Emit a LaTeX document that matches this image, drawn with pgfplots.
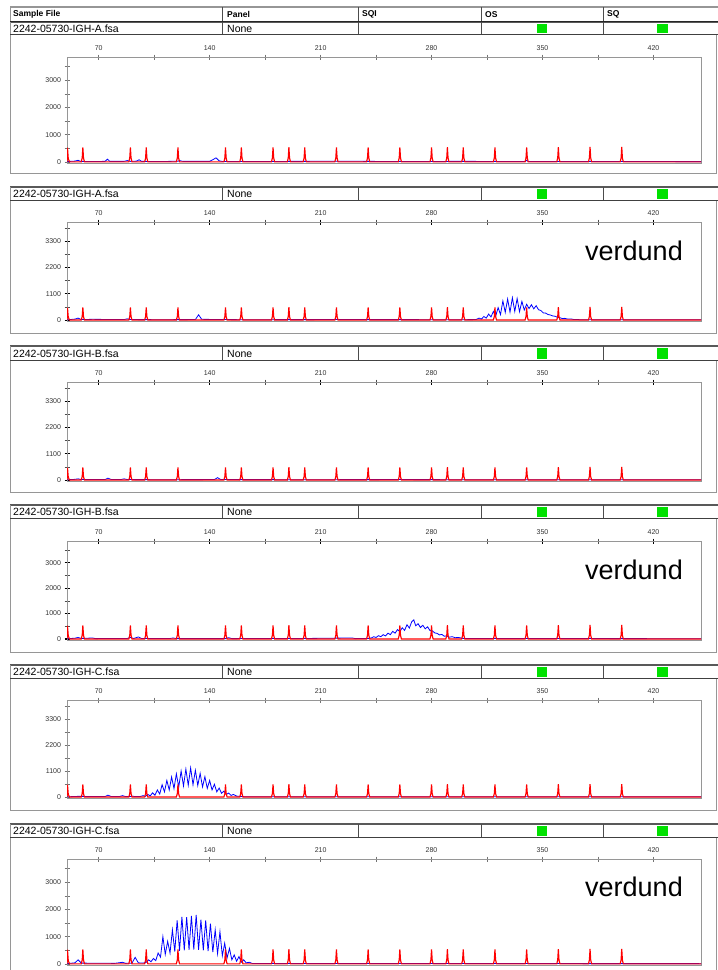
\documentclass[border=0pt]{standalone}
\usepackage{pgfplots}
\pgfplotsset{compat=1.18}
\usepackage{pgfplotstable}
\usepackage{fontspec}
\setmainfont{Liberation Sans}
\definecolor{okgreen}{RGB}{0,225,0}
\definecolor{framec}{RGB}{150,150,150}

\pgfplotstableread[row sep=\\]{
x y\\
50 0\\ 50.3 520\\ 50.8 120\\ 51.6 0\\
59 0\\ 59.6 150\\ 60 530\\ 60.4 150\\ 61 0\\
89 0\\ 89.6 150\\ 90 530\\ 90.4 150\\ 91 0\\
99 0\\ 99.6 150\\ 100 530\\ 100.4 150\\ 101 0\\
119 0\\ 119.6 150\\ 120 530\\ 120.4 150\\ 121 0\\
149 0\\ 149.6 150\\ 150 530\\ 150.4 150\\ 151 0\\
159 0\\ 159.6 150\\ 160 530\\ 160.4 150\\ 161 0\\
179 0\\ 179.6 150\\ 180 530\\ 180.4 150\\ 181 0\\
189 0\\ 189.6 150\\ 190 540\\ 190.4 150\\ 191 0\\
199 0\\ 199.6 150\\ 200 530\\ 200.4 150\\ 201 0\\
219 0\\ 219.6 150\\ 220 530\\ 220.4 150\\ 221 0\\
239 0\\ 239.6 150\\ 240 530\\ 240.4 150\\ 241 0\\
259 0\\ 259.6 150\\ 260 530\\ 260.4 150\\ 261 0\\
279 0\\ 279.6 150\\ 280 530\\ 280.4 150\\ 281 0\\
289 0\\ 289.6 150\\ 290 540\\ 290.4 150\\ 291 0\\
299 0\\ 299.6 150\\ 300 530\\ 300.4 150\\ 301 0\\
319 0\\ 319.6 150\\ 320 530\\ 320.4 150\\ 321 0\\
339 0\\ 339.6 150\\ 340 530\\ 340.4 150\\ 341 0\\
359 0\\ 359.6 150\\ 360 540\\ 360.4 150\\ 361 0\\
379 0\\ 379.6 150\\ 380 550\\ 380.4 150\\ 381 0\\
399 0\\ 399.6 150\\ 400 550\\ 400.4 150\\ 401 0\\
450 0\\
}\redstd

\pgfplotstableread[row sep=\\]{
x y\\
50 10\\ 52 20\\ 55 30\\ 57 60\\ 58.5 20\\ 65 15\\ 74 20\\ 75.5 100\\ 77 20\\ 86 20\\ 88 50\\ 90 20\\
94 30\\ 95.5 80\\ 97 20\\ 110 15\\ 120 25\\ 121 50\\ 123 20\\ 140 20\\ 142 80\\ 144 150\\ 146 40\\
148 15\\ 200 20\\ 220 25\\ 260 15\\ 300 20\\ 339 15\\ 340 60\\ 341 15\\ 400 15\\ 450 10\\
}\blueA

\pgfplotstableread[row sep=\\]{
x y\\
50 10\\ 55 40\\ 57 80\\ 59 20\\ 66 30\\ 86 20\\ 88 50\\ 90 20\\ 110 15\\ 131 20\\ 133 220\\ 135 30\\
160 15\\ 220 20\\ 300 15\\
308 20\\ 310 80\\ 311.5 40\\ 313 150\\ 314.5 80\\ 316 250\\ 317.5 130\\ 319 360\\ 320.5 170\\
322 520\\ 323.5 230\\ 325 800\\ 326.5 320\\ 328 880\\ 329.5 330\\ 331 930\\ 332.5 360\\
334 900\\ 335.5 350\\ 337 780\\ 338.5 420\\ 340 660\\ 341.5 480\\ 343 640\\ 344.5 470\\
346 600\\ 347.5 430\\ 349 400\\ 350.5 300\\ 352 290\\ 353.5 230\\ 355 210\\ 356.5 170\\
358 160\\ 359.5 110\\ 361 100\\ 362.5 60\\ 364 70\\ 366 40\\ 368 45\\ 370 20\\ 372 25\\ 374 10\\
450 10\\
}\blueAd

\pgfplotstableread[row sep=\\]{
x y\\
50 10\\ 55 30\\ 57 50\\ 59 20\\ 74 20\\ 75.8 80\\ 78 20\\ 84 20\\ 86 50\\ 88 20\\ 110 15\\
143 20\\ 145 100\\ 147 20\\ 200 15\\ 260 20\\ 300 15\\ 400 15\\ 450 10\\
}\blueB

\pgfplotstableread[row sep=\\]{
x y\\
50 10\\ 55 30\\ 57 60\\ 59 20\\ 66 40\\ 68 15\\ 88 20\\ 90 60\\ 92 20\\ 95 80\\ 97 20\\
115 20\\ 117 40\\ 119 15\\ 150 15\\ 152 50\\ 154 15\\ 200 20\\ 230 40\\ 232 15\\
240 20\\ 242 40\\ 243.5 90\\ 245 60\\ 246.5 130\\ 248 90\\ 249.5 170\\ 251 120\\ 252.5 230\\
254 170\\ 255.5 300\\ 257 230\\ 258.5 370\\ 260 290\\ 261.5 440\\ 263 340\\ 264.5 560\\
266 430\\ 267.5 680\\ 268.8 750\\ 270 520\\ 271.5 600\\ 273 450\\ 274.5 540\\ 276 400\\
277.5 480\\ 279 330\\ 280.5 320\\ 282 240\\ 283.5 220\\ 285 160\\ 286.5 180\\ 288 110\\
289.5 120\\ 291 70\\ 293 90\\ 295 50\\ 297 60\\ 300 20\\ 400 15\\ 450 10\\
}\blueBd

\pgfplotstableread[row sep=\\]{
x y\\
50 10\\ 57 30\\ 74 20\\ 75.8 80\\ 78 20\\ 83 20\\ 85 60\\ 87 20\\ 90 20\\ 91 40\\ 93 20\\
96 20\\ 98 60\\ 99.5 30\\ 101 110\\ 102.5 50\\ 104 180\\ 105.5 80\\ 107 300\\ 108.5 130\\
110 520\\ 111.5 220\\ 113 700\\ 114.5 300\\ 116 850\\ 117.5 360\\ 119 980\\ 120.5 420\\
122 1100\\ 123.5 470\\ 125 1180\\ 126.5 500\\ 128 1230\\ 129.5 520\\ 131 1130\\ 132.5 490\\
134 1000\\ 135.5 430\\ 137 860\\ 138.5 370\\ 140 700\\ 141.5 300\\ 143 540\\ 144.5 220\\
146 380\\ 147.5 160\\ 149 250\\ 150.5 110\\ 152 170\\ 153.5 70\\ 155 110\\ 157 40\\ 159 30\\
162 15\\ 250 15\\ 450 10\\
}\blueC

\pgfplotstableread[row sep=\\]{
x y\\
50 10\\ 55 40\\ 57 150\\ 59 30\\ 80 20\\ 85 60\\ 87 20\\ 91 30\\ 93 240\\ 95 40\\ 98 30\\
100 60\\ 101.5 150\\ 103 80\\ 104.5 200\\ 106 120\\ 107.5 400\\ 109 250\\ 110.5 1000\\
112 350\\ 113.5 830\\ 115 400\\ 116.5 1250\\ 118 450\\ 119.5 1600\\ 121 480\\ 122.5 1730\\
124 500\\ 125.5 1720\\ 127 520\\ 128.5 1760\\ 130 530\\ 131.5 1800\\ 133 520\\ 134.5 1620\\
136 500\\ 137.5 1600\\ 139 470\\ 140.5 1480\\ 142 430\\ 143.5 1250\\ 145 380\\ 146.5 1180\\
148 300\\ 149.5 760\\ 151 220\\ 152.5 570\\ 154 150\\ 155.5 330\\ 157 100\\ 158.5 270\\
160 60\\ 161.5 150\\ 163 40\\ 165 60\\ 167 15\\ 250 15\\ 450 10\\
}\blueCd

\pgfplotsset{
  chrom/.style={scale only axis, width=634pt, anchor=south west,
    xmin=50, xmax=450, ymin=-40,
    xtick={70,140,210,280,350,420}, minor xtick={105,175,245,315,385},
    xtick pos=right, xticklabel pos=right, ytick pos=left, yticklabel pos=left,
    tick align=center, axis line style={framec, line width=0.9pt},
    major tick length=5pt, minor tick length=5pt,
    tick label style={font=\fontsize{7}{8}\selectfont, text=black!80},
    /pgf/number format/assume math mode=true, /pgf/number format/1000 sep={},
    axis background/.style={fill=white}},
  kilo/.style={ymax=3850, ytick={0,1000,2000,3000}, minor ytick={500,1500,2500,3500}},
  elf/.style={ymax=4100, ytick={0,1100,2200,3300}, minor ytick={550,1650,2750,3850}},
  boldt/.style={major tick style={black, line width=1.1pt}, minor tick style={black!70, line width=0.5pt}},
  thint/.style={major tick style={black!55, line width=0.5pt}, minor tick style={black!55, line width=0.5pt}},
  bt/.style={blue, line width=0.8pt, no marks},
  rt/.style={red, line width=1.15pt, no marks},
}

\newcommand\hdr{\fontsize{10.5}{11}\selectfont}
\newcommand\hrow[3]{%
  \fill[white] (10,#1) rectangle (718,#2);
  \draw[black!65, line width=1.3pt] (10,#1) -- (718,#1);
  \draw[black!75, line width=0.8pt] (10,#2) -- (718,#2);
  \draw[framec, line width=0.8pt] (10,#1) -- (10,#2);
  \foreach \xx in {222,358,481,603} \draw[black!70, line width=0.8pt] (\xx,#1) -- (\xx,#2);
  \node[anchor=west, inner sep=0pt, font=\hdr] at (13,{(#1+#2)/2+0.5}) {#3};
  \node[anchor=west, inner sep=0pt, font=\hdr] at (227,{(#1+#2)/2+0.5}) {None};
  \fill[okgreen] (537,{#1+2}) rectangle (547,{#2-1.5});
  \fill[okgreen] (657,{#1+2}) rectangle (668,{#2-1.5});
}

\begin{document}
\begin{tikzpicture}
\useasboundingbox (0pt,0pt) rectangle (718pt,-970pt);
\begin{scope}[x=1pt,y=-1pt]
  % panel frames
  \draw[framec, line width=1pt] (10,34) rectangle (716,173);
  \draw[framec, line width=1pt] (10,200) rectangle (716,333);
  \draw[framec, line width=1pt] (10,360) rectangle (716,492);
  \draw[framec, line width=1pt] (10,518) rectangle (716,652);
  \draw[framec, line width=1pt] (10,678) rectangle (716,810);
  \draw[framec, line width=1pt] (10,837) rectangle (716,975);
  % title row
  \draw[framec, line width=1.2pt] (10,7) -- (718,7);
  \draw[framec, line width=0.8pt] (10,7) -- (10,21);
  \foreach \xx in {222,358,481,603} \draw[black!70, line width=0.8pt] (\xx,7) -- (\xx,21);
  \node[anchor=west, inner sep=0pt, font=\fontsize{8.5}{9}\selectfont\bfseries] at (13,14.5) {Sample File};
  \node[anchor=west, inner sep=0pt, font=\fontsize{8.5}{9}\selectfont\bfseries] at (227,14.5) {Panel};
  \node[anchor=west, inner sep=0pt, font=\fontsize{8.5}{9}\selectfont\bfseries] at (362,14.5) {SQI};
  \node[anchor=west, inner sep=0pt, font=\fontsize{8.5}{9}\selectfont\bfseries] at (485,14.5) {OS};
  \node[anchor=west, inner sep=0pt, font=\fontsize{8.5}{9}\selectfont\bfseries] at (607,14.5) {SQ};
  \hrow{22}{34}{2242-05730-IGH-A.fsa}
  \draw[black!85, line width=1.6pt] (10,21.5) -- (718,21.5);
  \hrow{187}{200}{2242-05730-IGH-A.fsa}
  \hrow{346}{360}{2242-05730-IGH-B.fsa}
  \hrow{505}{518}{2242-05730-IGH-B.fsa}
  \hrow{665}{678}{2242-05730-IGH-C.fsa}
  \hrow{824}{837}{2242-05730-IGH-C.fsa}
\end{scope}

\begin{axis}[chrom, kilo, thint, at={(67pt,-163pt)}, height=106pt]
\addplot[bt] table {\blueA};
\addplot[rt] table {\redstd};
\end{axis}

\begin{axis}[chrom, elf, boldt, at={(67pt,-321pt)}, height=99pt]
\addplot[bt] table {\blueAd};
\addplot[rt] table {\redstd};
\end{axis}

\begin{axis}[chrom, elf, boldt, at={(67pt,-481pt)}, height=99pt]
\addplot[bt] table {\blueB};
\addplot[rt] table {\redstd};
\end{axis}

\begin{axis}[chrom, kilo, boldt, at={(67pt,-640pt)}, height=99pt]
\addplot[bt] table {\blueBd};
\addplot[rt] table {\redstd};
\end{axis}

\begin{axis}[chrom, elf, thint, at={(67pt,-798pt)}, height=98pt]
\addplot[bt] table {\blueC};
\addplot[rt] table {\redstd};
\end{axis}

\begin{axis}[chrom, kilo, thint, at={(67pt,-965pt)}, height=106pt]
\addplot[bt] table {\blueCd};
\addplot[rt] table {\redstd};
\end{axis}

\begin{scope}[x=1pt,y=-1pt]
  \node[font=\fontsize{27}{30}\selectfont, inner sep=0pt] at (634,251) {verdund};
  \node[font=\fontsize{27}{30}\selectfont, inner sep=0pt] at (634,570) {verdund};
  \node[font=\fontsize{27}{30}\selectfont, inner sep=0pt] at (634,887) {verdund};
\end{scope}
\end{tikzpicture}
\end{document}
